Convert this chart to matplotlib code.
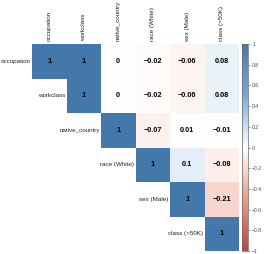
import numpy as np
import matplotlib.pyplot as plt
from matplotlib.colors import LinearSegmentedColormap

plt.rcParams['font.family'] = ['Liberation Sans', 'DejaVu Sans']

names = ["occupation", "workclass", "native_country", "race (White)", "sex (Male)", "class (>50K)"]

# upper triangle of the correlation matrix, row by row
row_occupation = [1, 1, 0, -0.02, -0.06, 0.08]
row_workclass = [1, 0, -0.02, -0.06, 0.08]
row_native = [1, -0.07, 0.01, -0.01]
row_race = [1, 0.1, -0.08]
row_sex = [1, -0.21]
row_class = [1]

rows = [row_occupation, row_workclass, row_native, row_race, row_sex, row_class]
n = len(names)
corr = np.full((n, n), np.nan)
for i, r in enumerate(rows):
    corr[i, i:] = r

cmap = LinearSegmentedColormap.from_list(
    "corr", ["#BB4444", "#EE9988", "#FFFFFF", "#77AADD", "#4477AA"])

fig = plt.figure(figsize=(2.66, 2.54), dpi=100)
ax = fig.add_axes([32 / 266, 3 / 254, 207 / 266, 207 / 254])
cax = fig.add_axes([241.5 / 266, 3 / 254, 6.5 / 266, 207 / 254])

masked = np.ma.masked_invalid(corr)
mesh = ax.pcolormesh(np.arange(n + 1) - 0.5, np.arange(n + 1) - 0.5, masked,
                     cmap=cmap, vmin=-1, vmax=1, linewidth=0)
ax.set_xlim(-0.5, n - 0.5)
ax.set_ylim(n - 0.5, -0.5)
ax.set_axis_off()


def fmt(v):
    s = f"{round(v, 2):g}"
    return s.replace("-", "\u2212")


for i in range(n):
    for j in range(i, n):
        ax.text(j, i, fmt(corr[i, j]), ha="center", va="center",
                fontsize=5.3, fontweight="bold", color="black")
    ax.text(i - 0.54, i, names[i], ha="right", va="center", fontsize=4.5,
            color="#222222", clip_on=False)
    ax.text(i, -0.58, names[i], ha="center", va="bottom", rotation=90,
            fontsize=4.5, color="#222222", clip_on=False)

cb = fig.colorbar(mesh, cax=cax, ticks=np.linspace(-1, 1, 11))
cb.ax.set_yticklabels([fmt(t) for t in np.round(np.linspace(-1, 1, 11), 1)])
cb.ax.tick_params(labelsize=3.6, length=1.5, width=0.4, colors="#444444", pad=1.5)
cb.outline.set_linewidth(0.5)
cb.outline.set_edgecolor("#666666")

fig.savefig("out.png", dpi=100)
